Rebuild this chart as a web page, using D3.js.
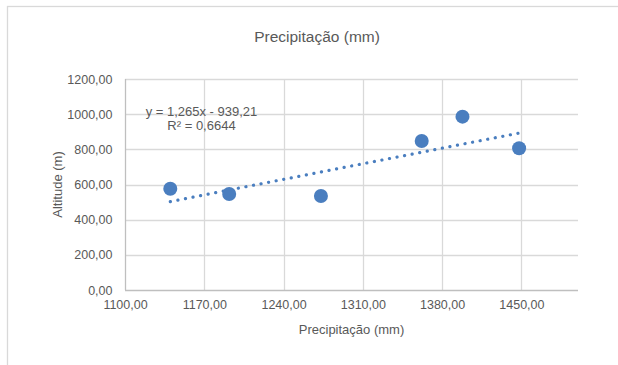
<!DOCTYPE html>
<html><head><meta charset="utf-8">
<script src="https://cdn.jsdelivr.net/npm/d3@7"></script>
<style>html,body{margin:0;padding:0;background:#fff;}svg{display:block;font-family:"Liberation Sans",Arial,sans-serif;}</style>
</head><body>
<svg id="c" width="618" height="365"></svg>
<script>
const precipitacao = [1140, 1192, 1273, 1362, 1398, 1448];
const altitude = [576, 546, 535, 847, 986, 806];
const xTicks = [1100, 1170, 1240, 1310, 1380, 1450];
const yTicks = [0, 200, 400, 600, 800, 1000, 1200];
const trendSlope = 1.265, trendIntercept = -939.21;
const equationLines = ["y = 1,265x - 939,21", "R² = 0,6644"];
const chartTitle = "Precipitação (mm)";
const xTitle = "Precipitação (mm)";
const yTitle = "Altitude (m)";

const svg = d3.select("#c");
const fmt = v => d3.format(".2f")(v).replace(".", ",");
const L = 125, R = 578, T = 79, B = 290;
const x = d3.scaleLinear().domain([1100, 1500]).range([L, R]);
const y = d3.scaleLinear().domain([0, 1200]).range([B, T]);
const txt = "#595959";

// chart border
svg.append("rect").attr("x", 7.5).attr("y", 6.5).attr("width", 640).attr("height", 400)
  .attr("fill", "none").attr("stroke", "#d9d9d9").attr("stroke-width", 1.3);

// gridlines
svg.append("g").selectAll("line").data(yTicks.filter(d => d > 0)).join("line")
  .attr("x1", L).attr("x2", R).attr("y1", d => Math.round(y(d)) + 0.5).attr("y2", d => Math.round(y(d)) + 0.5)
  .attr("stroke", "#d9d9d9").attr("stroke-width", 1.3);
svg.append("g").selectAll("line").data(xTicks.filter(d => d > 1100)).join("line")
  .attr("y1", T).attr("y2", B).attr("x1", d => Math.round(x(d)) + 0.5).attr("x2", d => Math.round(x(d)) + 0.5)
  .attr("stroke", "#d9d9d9").attr("stroke-width", 1.3);

// axes
const xAxis = svg.append("g").attr("transform", `translate(0,${B + 0.5})`)
  .call(d3.axisBottom(x).tickValues(xTicks).tickFormat(fmt).tickSize(0).tickPadding(10));
const yAxis = svg.append("g").attr("transform", `translate(${L + 0.5},0)`)
  .call(d3.axisLeft(y).tickValues(yTicks).tickFormat(fmt).tickSize(0).tickPadding(13));
[xAxis, yAxis].forEach(a => {
  a.select(".domain").attr("stroke", "#bfbfbf").attr("stroke-width", 1.3);
  a.selectAll("text").attr("fill", txt).attr("font-size", "12.5px").attr("font-family", "Liberation Sans, Arial, sans-serif");
});
yAxis.select(".domain").attr("d", `M0,${T}V${B}`);
xAxis.select(".domain").attr("d", `M${L},0H${R}`);

// trendline
const xmin = d3.min(precipitacao), xmax = d3.max(precipitacao);
svg.append("line")
  .attr("x1", x(xmin)).attr("y1", y(trendSlope * xmin + trendIntercept))
  .attr("x2", x(xmax)).attr("y2", y(trendSlope * xmax + trendIntercept))
  .attr("stroke", "#4a7ebf").attr("stroke-width", 3.2).attr("stroke-linecap", "round")
  .attr("stroke-dasharray", "0.1 7.6");

// points
svg.append("g").selectAll("circle").data(precipitacao).join("circle")
  .attr("cx", d => x(d)).attr("cy", (d, i) => y(altitude[i])).attr("r", 7)
  .attr("fill", "#4a7ebf");

// equation
svg.append("text").attr("x", 201.5).attr("y", 116).attr("text-anchor", "middle")
  .attr("fill", txt).attr("font-size", "13px")
  .selectAll("tspan").data(equationLines).join("tspan")
  .attr("x", 201.5).attr("dy", (d, i) => i === 0 ? 0 : 14).text(d => d);

// titles
svg.append("text").attr("x", 317).attr("y", 42).attr("text-anchor", "middle")
  .attr("fill", txt).attr("font-size", "15.5px").text(chartTitle);
svg.append("text").attr("x", (L + R) / 2).attr("y", 334).attr("text-anchor", "middle")
  .attr("fill", txt).attr("font-size", "13px").text(xTitle);
svg.append("text").attr("transform", `translate(62,${(T + B) / 2}) rotate(-90)`).attr("text-anchor", "middle")
  .attr("fill", txt).attr("font-size", "13px").text(yTitle);
</script>
</body></html>
